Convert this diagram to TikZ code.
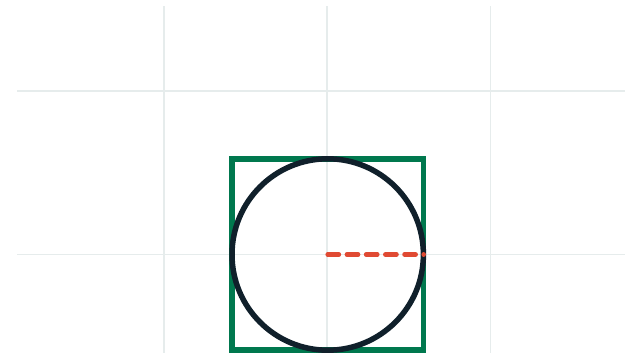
\documentclass[tikz,border=0pt]{standalone}
\definecolor{gridc}{HTML}{E6ECEC}
\definecolor{sqgreen}{HTML}{00784E}
\definecolor{circdark}{HTML}{10202B}
\definecolor{radred}{HTML}{E04A33}
\tikzset{
  gridline/.style={draw=gridc, line width=1.6pt},
  sqline/.style={draw=sqgreen, line width=5.5pt},
  circline/.style={draw=circdark, line width=5.5pt},
  radline/.style={draw=radred, line width=4.5pt, line cap=round, dash pattern=on 11.2pt off 8pt},
}
\begin{document}
\begin{tikzpicture}[x=1pt,y=-1pt]
\useasboundingbox (0,0) rectangle (625,353);
% grid
\foreach \gx in {163.7,327.2,490.5} \draw[gridline] (\gx,6) -- (\gx,353);
\foreach \gy in {91,254.5} \draw[gridline] (17,\gy) -- (625,\gy);
% square
\draw[sqline] (232,159) rectangle (423.5,350);
% circle
\coordinate (c) at (327.7,254.5);
\draw[circline] (c) circle[radius=95.7];
% radius
\coordinate (r) at (423.7,254.5);
\draw[radline] (c) -- (r);
\end{tikzpicture}
\end{document}
